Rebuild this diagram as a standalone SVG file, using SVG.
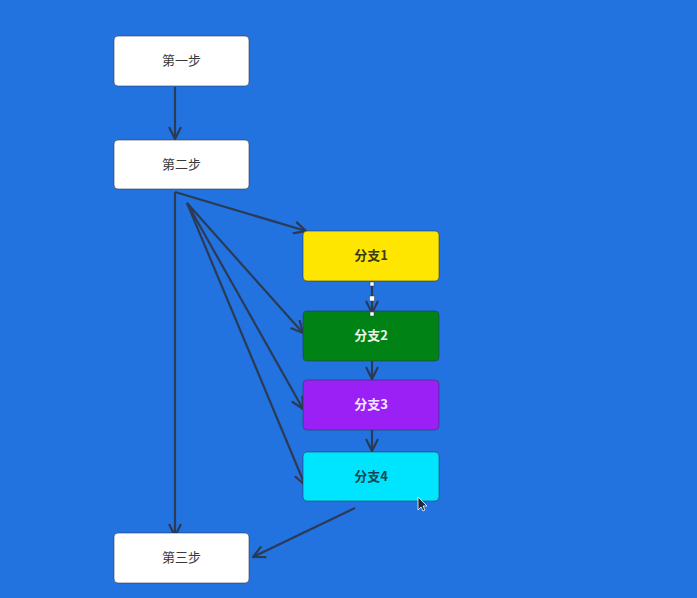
<svg xmlns="http://www.w3.org/2000/svg" width="697" height="598" viewBox="0 0 697 598">
<style>
.node rect{stroke:#2a3b5a;stroke-width:1;stroke-opacity:0.6}
.node text{font-family:"Noto Sans CJK SC","Noto Sans",sans-serif;font-size:13px;font-weight:bold;text-anchor:middle;dominant-baseline:central}
.w rect{fill:#ffffff}
.w text{fill:#3a3a3a;font-weight:normal}
.conn line{stroke:#2b3a55;stroke-width:2.2;fill:none}
</style>
<defs>
<marker id="arr" viewBox="0 0 14 14" refX="13" refY="7" markerWidth="14" markerHeight="14" markerUnits="userSpaceOnUse" orient="auto">
<path d="M1,1 L13,7 L1,13" fill="none" stroke="#2b3a55" stroke-width="2.2"/>
</marker>
</defs>
<rect width="697" height="598" fill="#2273e0"/>
<g class="conn">
<line x1="175" y1="87" x2="175" y2="139" marker-end="url(#arr)"/>
<line x1="175" y1="192" x2="175" y2="536" marker-end="url(#arr)"/>
<line x1="175" y1="192" x2="306" y2="231" marker-end="url(#arr)"/>
<line x1="187" y1="203" x2="303" y2="333" marker-end="url(#arr)"/>
<line x1="187" y1="203" x2="303" y2="409" marker-end="url(#arr)"/>
<line x1="187" y1="203" x2="305" y2="485" marker-end="url(#arr)"/>
<line x1="372" y1="282" x2="372" y2="313" marker-end="url(#arr)"/>
<line x1="372" y1="348" x2="372" y2="379" marker-end="url(#arr)"/>
<line x1="372" y1="418" x2="372" y2="451" marker-end="url(#arr)"/>
<line x1="355" y1="508" x2="253" y2="557" marker-end="url(#arr)"/>
</g>
<g id="step1" class="node w"><rect x="114" y="36" width="135" height="50" rx="4"/><text x="181.5" y="59.5">第一步</text></g>
<g id="step2" class="node w"><rect x="114" y="140" width="135" height="49" rx="4"/><text x="181.5" y="163">第二步</text></g>
<g id="branch1" class="node"><rect x="303" y="231" width="136" height="50" rx="4" fill="#ffe600"/><text x="371" y="254.5" fill="#3a3a1a">分支1</text></g>
<g id="branch2" class="node"><rect x="303" y="311" width="136" height="50" rx="4" fill="#008214"/><text x="371" y="334.5" fill="#e8f5e8">分支2</text></g>
<g id="branch3" class="node"><rect x="303" y="380" width="136" height="50" rx="4" fill="#9b20f5"/><text x="371" y="403.5" fill="#f4e8ff">分支3</text></g>
<g id="branch4" class="node"><rect x="303" y="452" width="136" height="49" rx="4" fill="#00e5ff"/><text x="371" y="475" fill="#1a4450">分支4</text></g>
<g id="step3" class="node w"><rect x="114" y="533" width="135" height="50" rx="4"/><text x="181.5" y="556.5">第三步</text></g>
<g id="handles" fill="#ffffff" stroke="#2b3a55" stroke-width="0.5">
<rect x="370" y="282" width="4" height="4"/>
<rect x="369.5" y="296" width="5" height="5"/>
<rect x="370" y="312" width="4" height="4"/>
</g>
<path id="cursor" d="M418,497 L418,510 L421,507 L423,511 L425,510 L423,506 L427,506 Z" fill="#1e2a3a" stroke="#ffffff" stroke-width="0.8"/>
</svg>
